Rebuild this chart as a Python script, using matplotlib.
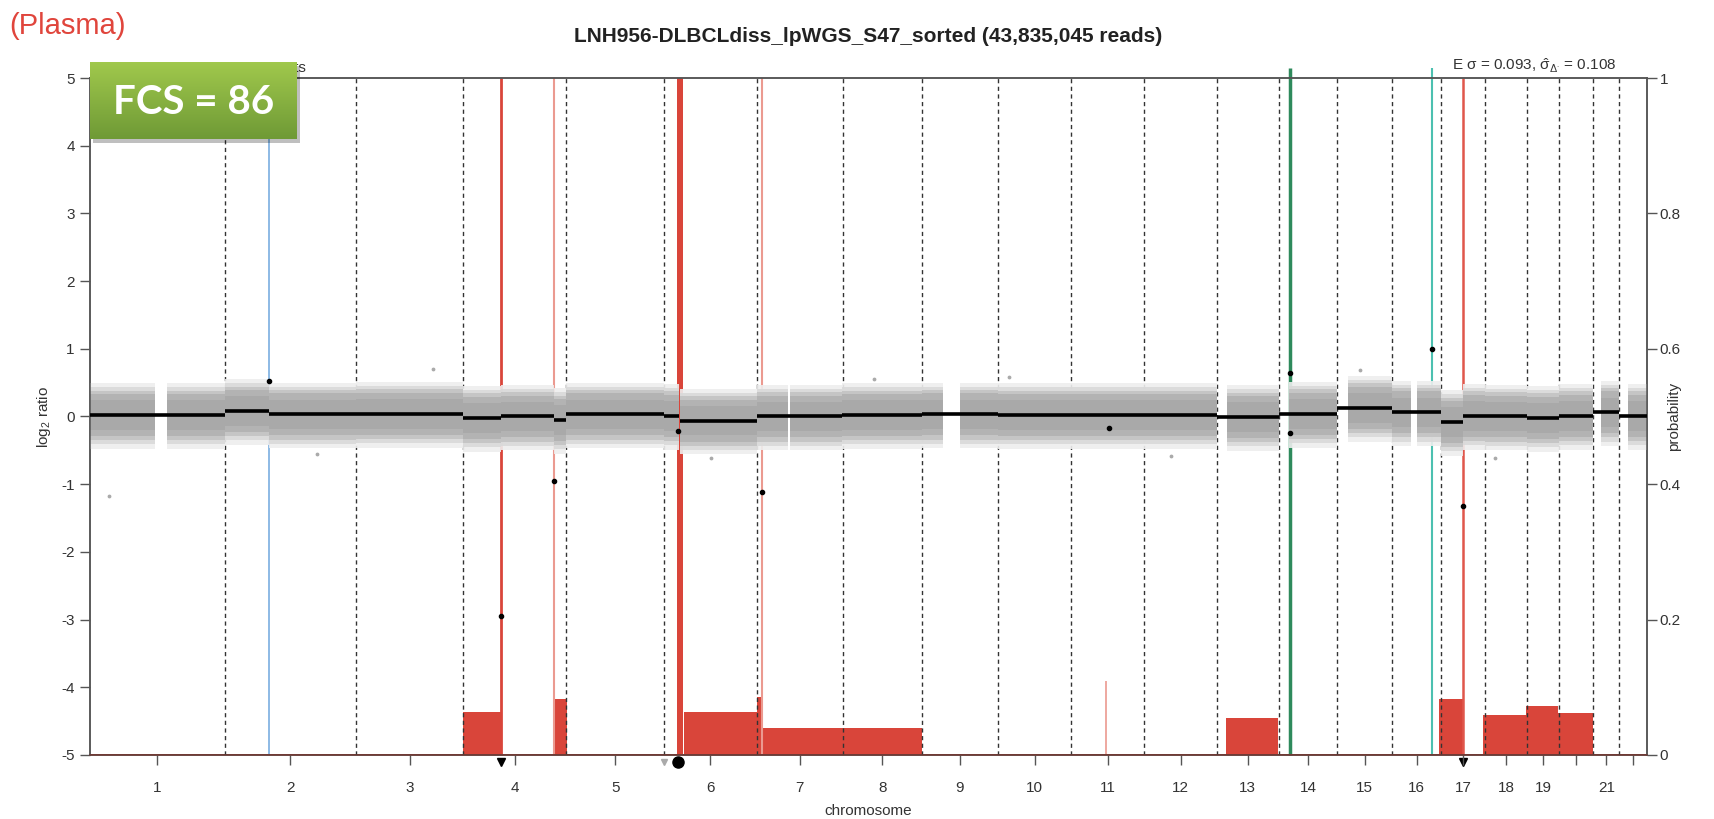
import numpy as np
import matplotlib.pyplot as plt
from matplotlib.colors import LinearSegmentedColormap
from matplotlib.patches import Rectangle

plt.rcParams['font.family'] = ['Liberation Sans', 'DejaVu Sans']
plt.rcParams['axes.unicode_minus'] = False
plt.rcParams['mathtext.default'] = 'regular'

# chromosome sizes (Mb, hg19)
chrom_len = [249.25, 243.20, 198.02, 191.15, 180.92, 171.12, 159.14, 146.36, 141.21, 135.53,
             135.01, 133.85, 115.17, 107.35, 102.53, 90.35, 81.20, 78.08, 59.13, 63.03, 48.13, 51.30]
chrom_labels = ['1', '2', '3', '4', '5', '6', '7', '8', '9', '10', '11', '12', '13', '14',
                '15', '16', '17', '18', '19', '', '21', '']

# segmented log2 ratio (genome position in Mb)
seg_start = [0, 249, 331, 492, 690, 760, 858, 881, 1062, 1092, 1234, 1392, 1539, 1680,
             1816, 1951, 2085, 2200, 2307, 2410, 2500, 2540, 2581, 2659, 2719, 2782, 2830]
seg_end = [249, 331, 492, 690, 760, 858, 881, 1062, 1090, 1234, 1392, 1539, 1680, 1816,
           1951, 2085, 2200, 2307, 2410, 2500, 2540, 2581, 2659, 2719, 2782, 2830, 2881]
seg_value = [0.02, 0.08, 0.03, 0.04, -0.02, 0.0, -0.05, 0.03, 0.01, -0.06, 0.0, 0.02, 0.03, 0.02,
             0.02, 0.02, -0.01, 0.04, 0.13, 0.06, -0.08, 0.01, 0.0, -0.02, 0.01, 0.06, 0.01]

# regions without bins (centromeres, acrocentric arms)
gap_start = [121, 1292, 1578, 2085, 2200, 2307, 2445, 2782, 2830]
gap_end = [143, 1295, 1610, 2104, 2218, 2327, 2456, 2795, 2846]

# a few outlying bins
out_x = [35, 634, 1150, 1700, 2350, 2600, 420, 1450, 2000]
out_y = [-1.18, 0.70, -0.62, 0.58, 0.68, -0.62, -0.55, 0.55, -0.58]

# breakpoint bins (black)
bp_x = [331, 760, 858, 1088, 1243, 1886, 2220, 2220, 2483, 2540]
bp_y = [0.52, -2.95, -0.95, -0.22, -1.12, -0.17, 0.64, -0.25, 1.0, -1.32]

# probability blocks (right axis)
blk_left = [690, 858, 1086, 1099, 1234, 1243, 2102, 2496, 2577, 2657, 2716]
blk_right = [760, 883, 1098, 1234, 1243, 1539, 2198, 2540, 2657, 2716, 2781]
blk_prob = [0.064, 0.082, 1.0, 0.063, 0.085, 0.040, 0.055, 0.083, 0.059, 0.072, 0.062]

# breakpoint probability lines
line_x = [331, 760, 858, 1243, 1880, 2220, 2483, 2540]
line_prob = [1.0, 1.0, 1.0, 1.0, 0.11, 1.015, 1.015, 1.0]
line_color = ['#7aaee0', '#d9453a', '#eb9a90', '#eb9a90', '#eb9a90',
              '#2e8a5c', '#4cc0b0', '#e0564b']
line_width = [1.2, 2.0, 1.5, 1.5, 1.2, 2.5, 1.5, 1.8]

# markers under the axis
mk_x = [760, 1062, 1088, 2540]
mk_style = ['v', 'v', 'o', 'v']
mk_color = ['black', '#aaaaaa', 'black', 'black']
mk_size = [6, 5, 8, 6]

bounds = np.concatenate([[0], np.cumsum(chrom_len)])
centers = (bounds[:-1] + bounds[1:]) / 2
total = bounds[-1]

fig = plt.figure(figsize=(17.14, 8.19), dpi=100)
ax1 = fig.add_axes([90 / 1714, 1 - 755 / 819, 1557 / 1714, 677 / 819])
ax2 = ax1.twinx()
ax1.set_zorder(ax2.get_zorder() + 1)
ax1.patch.set_visible(False)

ax1.set_xlim(0, total)
ax1.set_ylim(-5, 5)
ax2.set_ylim(0, 1)

# chromosome boundaries
for b in bounds[1:-1]:
    ax1.axvline(b, color='#333333', lw=1.0, ls=(0, (3, 2.5)), zorder=1)


def pieces(a, b):
    out = [(a, b)]
    for gs, ge in zip(gap_start, gap_end):
        nxt = []
        for s, e in out:
            if ge <= s or gs >= e:
                nxt.append((s, e))
            else:
                if gs > s:
                    nxt.append((s, gs))
                if ge < e:
                    nxt.append((ge, e))
        out = nxt
    return out


# bins: dense grey cloud around each segment, drawn as shaded layers
layers = [(-0.50, 0.47, '#eeeeee'), (-0.43, 0.41, '#d9d9d9'), (-0.37, 0.36, '#c3c3c3'),
          (-0.31, 0.31, '#b1b1b1'), (-0.22, 0.22, '#a8a8a8')]
for s, e, v in zip(seg_start, seg_end, seg_value):
    for a, b in pieces(s, e):
        for lo, hi, col in layers:
            ax1.fill_between([a, b], v + lo, v + hi, color=col, lw=0, zorder=2, alpha=0.9)
ax1.scatter(out_x, out_y, s=3, color='#aaaaaa', zorder=2)

# segments
for s, e, v in zip(seg_start, seg_end, seg_value):
    ax1.plot([s, e], [v, v], color='black', lw=2.6, solid_capstyle='butt', zorder=3)
ax1.scatter(bp_x, bp_y, s=9, color='black', zorder=4)

# probabilities
ax2.bar(blk_left, np.array(blk_prob), width=np.array(blk_right) - np.array(blk_left),
        align='edge', color='#d9453a', lw=0, zorder=1)
for x, p, c, w in zip(line_x, line_prob, line_color, line_width):
    ax2.plot([x, x], [0, p], color=c, lw=w, solid_capstyle='butt', clip_on=False, zorder=2)
ax2.axhline(0, color='#8a3a33', lw=2.0, zorder=3)
for x, m, c, sz in zip(mk_x, mk_style, mk_color, mk_size):
    ax2.plot(x, -0.011, marker=m, color=c, ms=sz, clip_on=False, zorder=5)

# axes styling
for ax in (ax1, ax2):
    for sp in ax.spines.values():
        sp.set_color('#555555')
        sp.set_linewidth(1.1)
ax1.spines['bottom'].set_color('#6b3a35')

ax1.set_xticks(centers)
ax1.set_xticklabels(chrom_labels)
ax1.set_yticks(range(-5, 6))
ax1.set_yticklabels([str(v) for v in range(-5, 6)])
ax2.set_yticks([0, 0.2, 0.4, 0.6, 0.8, 1])
ax2.set_yticklabels(['0', '0.2', '0.4', '0.6', '0.8', '1'])
ax1.tick_params(axis='both', length=7, width=1, color='#555555', labelcolor='#333333',
                labelsize=11, pad=4)
ax1.tick_params(axis='x', pad=12)
ax2.tick_params(axis='y', length=7, width=1, color='#555555', labelcolor='#333333',
                labelsize=11, pad=2)

ax1.set_xlabel('chromosome', fontsize=11, color='#333333', labelpad=6)
ax1.set_ylabel('log$_2$ ratio', fontsize=11, color='#333333', labelpad=6)
ax2.set_ylabel('probability', fontsize=11, color='#333333', labelpad=-10)

ax1.text(0.980, 1.004, r'E σ = 0.093, $\hat{σ}_{Δ^{\cdot}}$ = 0.108',
         transform=ax1.transAxes, ha='right', va='bottom', fontsize=11, color='#333333')
ax1.text(0.139, 1.004, 'segments', transform=ax1.transAxes, ha='right', va='bottom',
         fontsize=11, color='#333333')

fig.text(868 / 1714, 1 - 36 / 819, 'LNH956-DLBCLdiss_lpWGS_S47_sorted (43,835,045 reads)',
         ha='center', va='center', fontsize=15, fontweight='bold', color='#222222')
fig.text(9 / 1714, 1 - 26 / 819, '(Plasma)', ha='left', va='center', fontsize=21,
         color='#e0453c')

# FCS badge
shadow = Rectangle((93 / 1714, 1 - 143 / 819), 207 / 1714, 77 / 819, transform=fig.transFigure,
                   color='#000000', alpha=0.25, lw=0, zorder=9)
fig.patches.append(shadow)
axb = fig.add_axes([90 / 1714, 1 - 139 / 819, 207 / 1714, 77 / 819], zorder=10)
green = LinearSegmentedColormap.from_list('g', ['#6f9a36', '#a0c84c'])
axb.imshow(np.linspace(0, 1, 64).reshape(-1, 1)[::-1], cmap=green, aspect='auto',
           extent=[0, 1, 0, 1])
axb.set_xlim(0, 1)
axb.set_ylim(0, 1)
axb.axis('off')
axb.text(0.5, 0.48, 'FCS = 86', ha='center', va='center', color='white', fontsize=29,
         fontweight='bold', family=['Lato', 'DejaVu Sans'])

fig.savefig('out.png', dpi=100)
